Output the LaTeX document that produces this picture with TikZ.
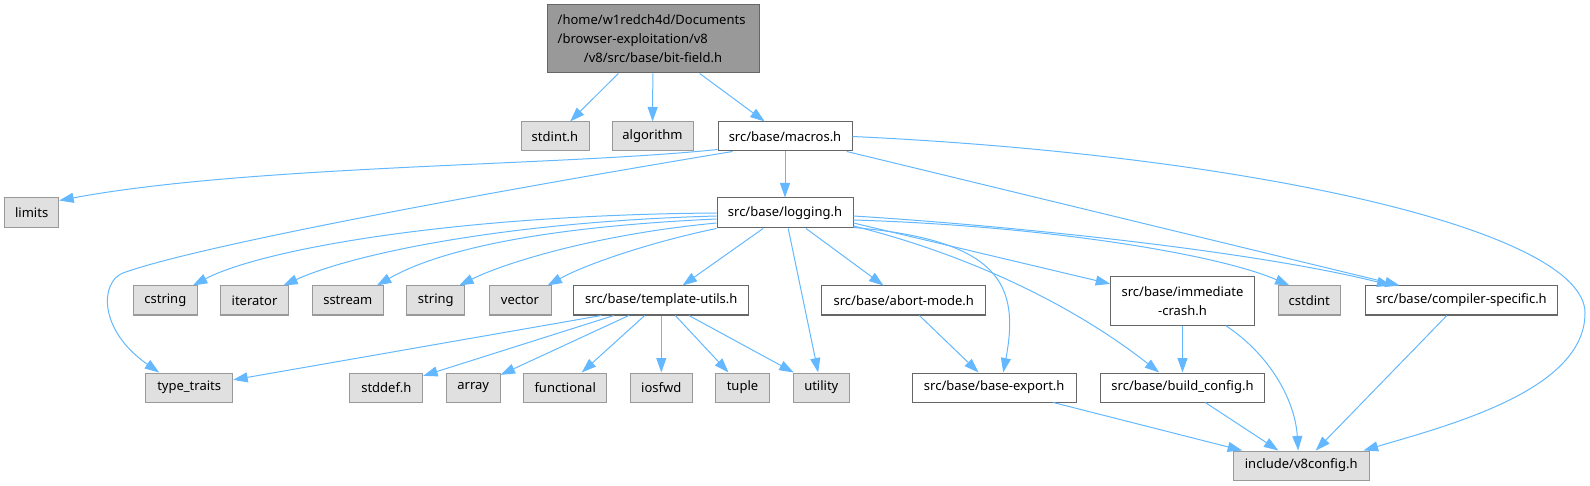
\documentclass[tikz,border=0pt]{standalone}
\usepackage{fontspec}
\setmainfont{Noto Sans}
\usepackage{tikz}
\usetikzlibrary{arrows.meta,calc}
\definecolor{edgeblue}{HTML}{63B8FF}
\definecolor{sysfill}{HTML}{E0E0E0}
\definecolor{sysline}{HTML}{999999}
\definecolor{rootfill}{HTML}{999999}
\definecolor{boxline}{HTML}{666666}
\tikzset{
  hdr/.style={rectangle,inner sep=0pt,minimum height=29,line width=1pt,
    font=\fontsize{13}{19}\selectfont},
  rootbox/.style={hdr,draw=boxline,fill=rootfill},
  srcbox/.style={hdr,draw=boxline,fill=white},
  sysbox/.style={hdr,draw=sysline,fill=sysfill},
  dep/.style={edgeblue,line width=1pt,-{Triangle[length=14.5pt,width=10pt]}},
}

\begin{document}
\begin{tikzpicture}[x=1pt,y=-1pt]
  \useasboundingbox (0,0) rectangle (1590,486);
  % top file
  \node[rootbox,minimum width=212,minimum height=68,text width=190.6,align=left] (root) at (653,39)
    {/home/w1redch4d/Documents\\/browser-exploitation/v8\\\makebox[\hsize][c]{/v8/src/base/bit-field.h}};
  % first level
  \node[sysbox,minimum width=68] (stdint) at (555,136.5) {stdint.h};
  \node[sysbox,minimum width=81] (algorithm) at (652.5,136.5) {algorithm};
  \node[srcbox,minimum width=134] (macros) at (785,136.5) {src/base/macros.h};
  \node[sysbox,minimum width=54,minimum height=30] (limits) at (31.7,213) {limits};
  \node[srcbox,minimum width=136,minimum height=30] (logging) at (785,213) {src/base/logging.h};
  % third row
  \node[sysbox,minimum width=64] (cstring) at (165.3,300.5) {cstring};
  \node[sysbox,minimum width=68.4] (iterator) at (254.5,300.5) {iterator};
  \node[sysbox,minimum width=71] (sstream) at (347.8,300.5) {sstream};
  \node[sysbox,minimum width=57.7] (string) at (435.8,300.5) {string};
  \node[sysbox,minimum width=62] (vector) at (520,300.5) {vector};
  \node[srcbox,minimum width=174.7] (tmplutils) at (661.3,300.5) {src/base/template-utils.h};
  \node[srcbox,minimum width=163.7] (abortmode) at (903.8,300.5) {src/base/abort-mode.h};
  \node[srcbox,minimum width=143.6,minimum height=48.3,align=center] (immcrash) at (1182.5,301)
    {src/base/immediate\\-crash.h};
  \node[sysbox,minimum width=62.3] (cstdint) at (1309.2,300.5) {cstdint};
  \node[srcbox,minimum width=192.7] (compspec) at (1461.4,300.5) {src/base/compiler-specific.h};
  % fourth row
  \node[sysbox,minimum width=87] (typetraits) at (189.2,387.5) {type\_traits};
  \node[sysbox,minimum width=72.7] (stddef) at (386.3,387.5) {stddef.h};
  \node[sysbox,minimum width=53.7] (array) at (473.2,387.5) {array};
  \node[sysbox,minimum width=83] (functional) at (565.2,387.5) {functional};
  \node[sysbox,minimum width=62] (iosfwd) at (661.3,387.5) {iosfwd};
  \node[sysbox,minimum width=53.6] (tuple) at (742.5,387.5) {tuple};
  \node[sysbox,minimum width=56] (utility) at (821.3,387.5) {utility};
  \node[srcbox,minimum width=163.7] (baseexport) at (994.2,387.5) {src/base/base-export.h};
  \node[srcbox,minimum width=163.6] (buildcfg) at (1182.5,387.5) {src/base/build\_config.h};
  \node[sysbox,minimum width=135.7] (v8config) at (1301.2,465.5) {include/v8config.h};

  % bit-field.h
  \draw[dep] (root) -- (stdint);
  \draw[dep] (root) -- (algorithm);
  \draw[dep] (root) -- (macros);
  % macros.h
  \draw[dep] ($(macros.south west)+(0,-2)$) .. controls (560,166) and (250,165) .. ($(limits.north east)+(0,3)$);
  \draw[dep] ($(macros.south west)+(15,0)$) .. controls (500,190) and (200,245) .. (123,273)
    .. controls (100,282) and (98,330) .. ($(typetraits.north west)+(14,0)$);
  \draw[dep] (macros) -- (logging);
  \draw[dep] (macros) -- (compspec);
  \draw[dep] (macros.east) .. controls (1250,155) and (1585,230) .. (1585,313)
    .. controls (1585,390) and (1450,425) .. ($(v8config.north east)+(-6,0)$);
  % logging.h, to the left
  \draw[dep] (logging.west) .. controls (450,215) and (260,250) .. ($(cstring.north east)+(-5,0)$);
  \draw[dep] ($(logging.west)+(0,3)$) .. controls (500,222) and (350,255) .. ($(iterator.north east)+(-6,0)$);
  \draw[dep] ($(logging.west)+(0,6)$) .. controls (520,228) and (430,255) .. ($(sstream.north east)+(-7,0)$);
  \draw[dep] ($(logging.west)+(0,10)$) .. controls (590,235) and (500,265) .. ($(string.north east)+(-6,0)$);
  \draw[dep] (logging.south west) .. controls (660,240) and (590,262) .. ($(vector.north east)+(-4,0)$);
  % logging.h, down
  \draw[dep] (logging) -- (tmplutils);
  \draw[dep] (logging) -- (utility);
  \draw[dep] (logging) -- (abortmode);
  % logging.h, to the right
  \draw[dep] ($(logging.east)+(0,3)$) .. controls (1000,225) and (1250,250) .. ($(compspec.north west)+(27,0)$);
  \draw[dep] ($(logging.east)+(0,7)$) .. controls (1050,226) and (1220,255) .. ($(cstdint.north west)+(12,0)$);
  \draw[dep] ($(logging.east)+(0,10)$) -- (immcrash);
  \draw[dep] ($(logging.east)+(0,13)$) .. controls (950,250) and (1060,295) .. ($(buildcfg.north west)+(59,0)$);
  \draw[dep] ($(logging.south east)+(0,-1)$) .. controls (1000,240) and (1020,285) .. ($(baseexport.north)+(9,0)$);
  % template-utils.h
  \draw[dep] ($(tmplutils.south west)+(28,0)$) -- (typetraits);
  \draw[dep] (tmplutils) -- (stddef);
  \draw[dep] (tmplutils) -- (array);
  \draw[dep] (tmplutils) -- (functional);
  \draw[dep] (tmplutils) -- (iosfwd);
  \draw[dep] (tmplutils) -- (tuple);
  \draw[dep] (tmplutils) -- (utility);
  % the rest
  \draw[dep] (abortmode) -- (baseexport);
  \draw[dep] (immcrash) -- (buildcfg);
  \draw[dep] ($(immcrash.south east)+(-29,0)$) .. controls (1270,355) and (1295,400) .. ($(v8config.north)+(-3,0)$);
  \draw[dep] (compspec) -- (v8config);
  \draw[dep] (baseexport) -- (v8config);
  \draw[dep] (buildcfg) -- (v8config);
\end{tikzpicture}
\end{document}
